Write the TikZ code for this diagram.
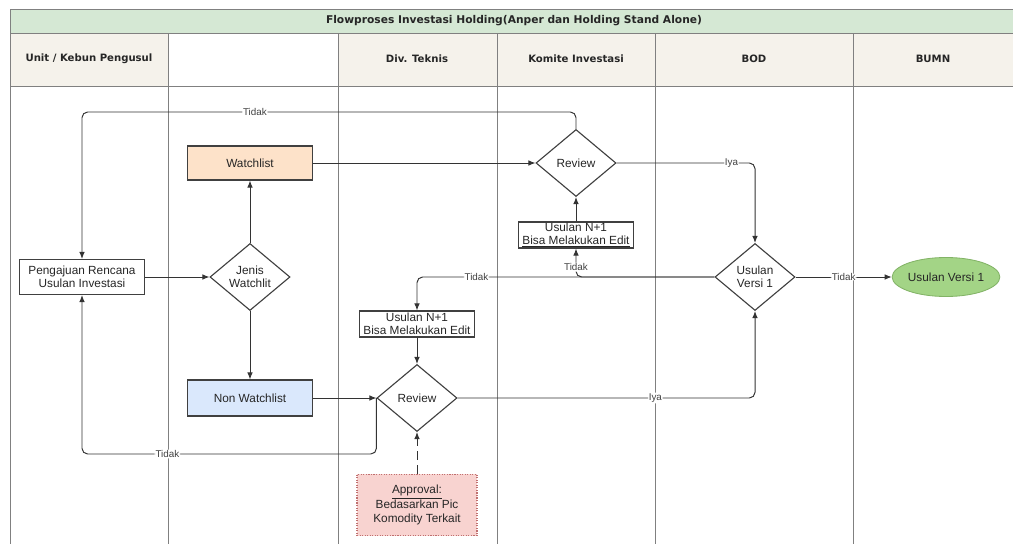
\documentclass[tikz,border=0pt]{standalone}
\usepackage{fontspec}
\setmainfont{Liberation Sans}
\newfontfamily\hdrfont{DejaVu Sans}
\usetikzlibrary{shapes.geometric, arrows.meta, positioning, calc}

\definecolor{titlegreen}{HTML}{D5E8D4}
\definecolor{hdrbeige}{HTML}{F5F2EB}
\definecolor{watchorange}{HTML}{FDE2C9}
\definecolor{nonblue}{HTML}{DAE8FC}
\definecolor{approvalpink}{HTML}{F8D3D0}
\definecolor{approvalline}{HTML}{C07070}
\definecolor{versigreen}{HTML}{A3D486}
\definecolor{versiline}{HTML}{82B366}

\begin{document}
\begin{tikzpicture}[
    x=0.025cm,
    y=-0.025cm,
    lane/.style={draw=black!50, line width=0.6pt},
    hdr/.style={font=\hdrfont\bfseries\fontsize{7.2}{8.5}\selectfont, text=black!85},
    box/.style={rectangle, draw=black!75, line width=0.8pt, align=center, inner sep=1pt, text=black!85, font=\fontsize{8.4}{9.6}\selectfont},
    start/.style={box, minimum width=3.125cm, minimum height=0.875cm},
    watch/.style={box, fill=watchorange, minimum width=3.125cm, minimum height=0.85cm},
    nonwatch/.style={box, fill=nonblue, minimum width=3.125cm, minimum height=0.9cm},
    edit/.style={box, minimum width=2.875cm, minimum height=0.65cm, inner sep=0.5pt, font=\fontsize{8.4}{9.2}\selectfont},
    decision/.style={diamond, draw=black!75, line width=0.8pt, aspect=1.2, inner sep=0pt, minimum width=2cm, minimum height=1.675cm, align=center, text=black!85, font=\fontsize{8.4}{9.6}\selectfont},
    note/.style={box, fill=approvalpink, draw=approvalline, densely dotted, minimum width=3cm, minimum height=1.525cm, font=\fontsize{8.4}{10.2}\selectfont},
    result/.style={ellipse, fill=versigreen, draw=versiline, line width=0.6pt, minimum width=2.075cm, minimum height=0.975cm, inner sep=0pt, font=\fontsize{8.4}{9.6}\selectfont, text=black!85},
    arrow/.style={-{Latex[length=5pt, width=4pt]}, line width=0.7pt, draw=black!80, rounded corners=4pt},
    lbl/.style={fill=white, inner sep=0.6pt, font=\fontsize{7}{8}\selectfont, text=black!75}
]
    \useasboundingbox (0,0) rectangle (1013,544);

    % Title bar
    \draw[lane, fill=titlegreen] (10,9) rectangle (1013,33);
    \node[hdr, font=\hdrfont\bfseries\fontsize{7.6}{9}\selectfont] (judul) at (514,21) {Flowproses Investasi Holding(Anper dan Holding Stand Alone)};

    % Lane headers
    \draw[lane, fill=hdrbeige] (10,33) rectangle (168,86);
    \draw[lane] (168,33) rectangle (338,86);
    \draw[lane, fill=hdrbeige] (338,33) rectangle (497,86);
    \draw[lane, fill=hdrbeige] (497,33) rectangle (655,86);
    \draw[lane, fill=hdrbeige] (655,33) rectangle (853,86);
    \draw[lane, fill=hdrbeige] (853,33) rectangle (1013,86);
    \node[hdr] (hUnit) at (89,59) {Unit / Kebun Pengusul};
    \node[hdr] (hTeknis) at (417,59) {Div. Teknis};
    \node[hdr] (hKomite) at (576,59) {Komite Investasi};
    \node[hdr] (hBod) at (754,59) {BOD};
    \node[hdr] (hBumn) at (933,59) {BUMN};

    % Lane lines
    \draw[lane] (10,86) -- (10,544);
    \draw[lane] (168,86) -- (168,544);
    \draw[lane] (338,86) -- (338,544);
    \draw[lane] (497,86) -- (497,544);
    \draw[lane] (655,86) -- (655,544);
    \draw[lane] (853,86) -- (853,544);

    % Unit / Kebun Pengusul
    \node[start] (pengajuan) at (82,277) {Pengajuan Rencana\\Usulan Investasi};

    % Watchlist choice
    \node[decision] (jenis) at (250,277) {Jenis\\Watchlit};
    \node[watch] (watchlist) at (250,163) {Watchlist};
    \node[nonwatch] (nonwatchlist) at (250,398) {Non Watchlist};

    % Div. Teknis
    \node[edit] (editTeknis) at (417,324) {Usulan N+1\\Bisa Melakukan Edit};
    \node[decision] (reviewTeknis) at (417,398) {Review};
    \node[note] (approval) at (417,505) {\underline{Approval:}\\Bedasarkan Pic\\Komodity Terkait};

    % Komite Investasi
    \node[edit] (editKomite) at (576,235) {Usulan N+1\\\underline{Bisa Melakukan Edit}};
    \node[decision] (reviewKomite) at (576,163) {Review};

    % BOD and BUMN
    \node[decision] (versi) at (755,277) {Usulan\\Versi 1};
    \node[result] (versiBumn) at (946,277) {Usulan Versi 1};

    % Return lines
    \coordinate (tidakTop) at (0,112);
    \coordinate (tidakBot) at (0,454);

    % Connections
    \draw[arrow] (pengajuan) -- (jenis);
    \draw[arrow] (jenis) -- (watchlist);
    \draw[arrow] (jenis) -- (nonwatchlist);
    \draw[arrow] (watchlist) -- (reviewKomite);
    \draw[arrow] (nonwatchlist) -- (reviewTeknis.west);
    \draw[arrow] (editKomite) -- (reviewKomite.south);
    \draw[arrow] (editTeknis) -- (reviewTeknis.north);
    \draw[arrow] (reviewKomite.north) -- (reviewKomite |- tidakTop) -- node[lbl, pos=0.65] {Tidak} (pengajuan |- tidakTop) -- (pengajuan.north);
    \draw[arrow] (reviewKomite.east) -- node[lbl, pos=0.83] {Iya} (versi |- reviewKomite) -- (versi.north);
    \draw[arrow] (reviewTeknis.west) -- (reviewTeknis.west |- tidakBot) -- node[lbl, pos=0.71] {Tidak} (pengajuan |- tidakBot) -- (pengajuan.south);
    \draw[arrow] (reviewTeknis.east) -- node[lbl, pos=0.665] {Iya} (versi |- reviewTeknis) -- (versi.south);
    \draw[arrow] (versi.west) -- node[lbl, pos=0.8] {Tidak} (editTeknis |- versi) -- (editTeknis.north);
    \draw[arrow] (versi.west) -- (editKomite |- versi) -- node[lbl, pos=0.35] {Tidak} (editKomite.south);
    \draw[arrow] (versi.east) -- node[lbl] {Tidak} (versiBumn);
    \draw[arrow, dash pattern=on 6pt off 4pt] (approval) -- (reviewTeknis.south);

\end{tikzpicture}
\end{document}
